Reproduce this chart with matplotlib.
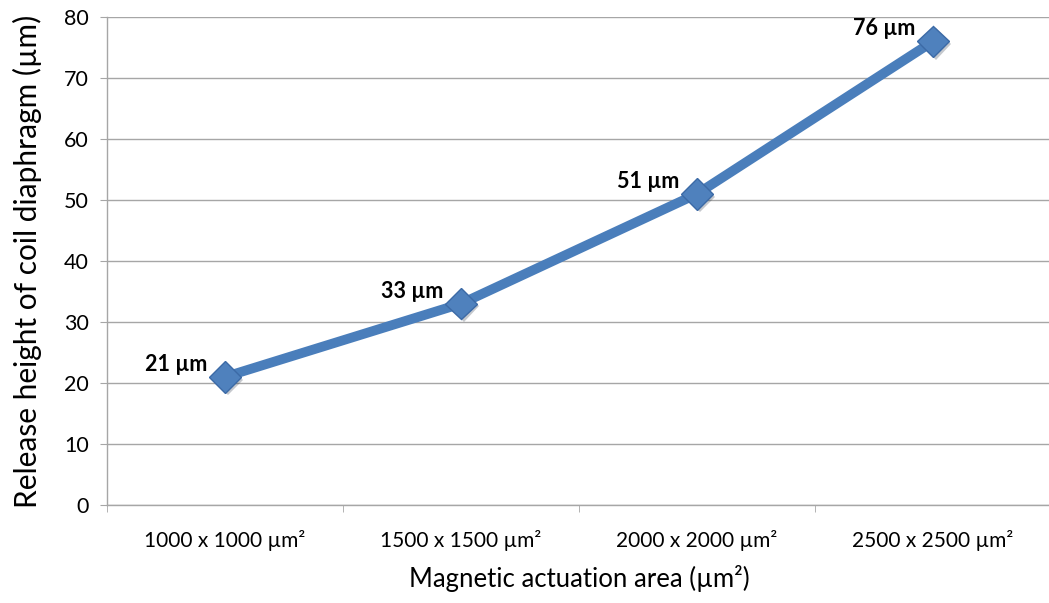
import matplotlib
matplotlib.use("Agg")
import matplotlib.pyplot as plt
import matplotlib.patheffects as pe

# Data
areas = ["1000 x 1000 µm²", "1500 x 1500 µm²", "2000 x 2000 µm²", "2500 x 2500 µm²"]
release_height = [21, 33, 51, 76]
y_ticks = [0, 10, 20, 30, 40, 50, 60, 70, 80]

plt.rcParams["font.family"] = ["Lato", "DejaVu Sans"]

W, H = 1049, 603
fig = plt.figure(figsize=(W / 100, H / 100), dpi=100)
ax = fig.add_axes([107 / W, (H - 505) / H, 944 / W, 488 / H])

x = list(range(len(areas)))
line_color = "#4a7ebb"
ax.plot(x, release_height, color=line_color, lw=7, solid_capstyle="round", zorder=3)
ax.plot(x, release_height, ls="none", marker="D", markersize=16,
        markerfacecolor="#4f81bd", markeredgecolor="#3c6aa6", markeredgewidth=1,
        zorder=4,
        path_effects=[pe.SimplePatchShadow(offset=(2, -2), alpha=0.25), pe.Normal()])

for xi, v in zip(x, release_height):
    ax.annotate(f"{v} µm", (xi, v), xytext=(-13, 9), textcoords="offset points",
                ha="right", va="center", fontsize=15.5, fontweight="bold", color="black")

ax.set_xlim(-0.5, len(areas) - 0.5)
ax.set_ylim(0, 80)
ax.set_yticks(y_ticks)
ax.set_xticks(x)
ax.set_xticklabels(areas)
ax.set_xticks([i - 0.5 for i in range(len(areas) + 1)], minor=True)

ax.grid(axis="y", color="#a6a6a6", lw=1)
ax.set_axisbelow(True)
for s in ["top", "right"]:
    ax.spines[s].set_visible(False)
for s in ["left", "bottom"]:
    ax.spines[s].set_color("#a6a6a6")
    ax.spines[s].set_linewidth(1)

ax.tick_params(axis="y", length=5, color="#a6a6a6", labelsize=15.5, pad=8)
ax.tick_params(axis="x", which="major", length=0, labelsize=15, pad=18)
ax.tick_params(axis="x", which="minor", length=5, color="#a6a6a6")

ax.set_xlabel("Magnetic actuation area (µm²)", fontsize=18.5, labelpad=10)
ax.set_ylabel("Release height of coil diaphragm (µm)", fontsize=21.5, labelpad=16)

fig.savefig("out.png", dpi=100)
